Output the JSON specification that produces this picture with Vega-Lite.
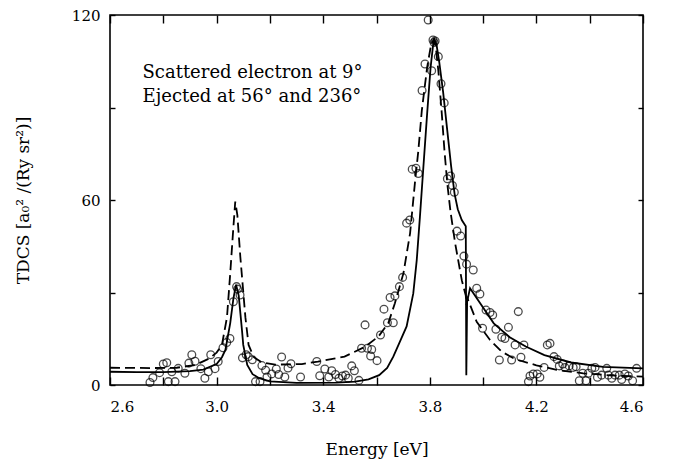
{
  "$schema": "https://vega.github.io/schema/vega-lite/v6.json",
  "width": 533,
  "height": 370,
  "autosize": "none",
  "padding": {"left": 110, "top": 15, "right": 30, "bottom": 81},
  "background": "white",
  "config": {
    "view": {"stroke": "black", "strokeWidth": 1.6},
    "font": "DejaVu Serif"
  },
  "datasets": {
    "obs": [
      {"E":2.750,"V":0.8},{"E":2.761,"V":2.4},{"E":2.786,"V":4.0},{"E":2.800,"V":6.8},{"E":2.813,"V":7.2},{"E":2.819,"V":1.1},{"E":2.844,"V":1.1},{"E":2.832,"V":4.3},{"E":2.856,"V":5.4},{"E":2.881,"V":3.8},{"E":2.896,"V":7.1},{"E":2.907,"V":9.8},{"E":2.919,"V":7.7},{"E":2.941,"V":5.3},{"E":2.956,"V":2.2},{"E":2.969,"V":4.3},{"E":2.978,"V":9.8},{"E":2.994,"V":5.3},{"E":3.006,"V":7.6},{"E":3.024,"V":12.1},{"E":3.038,"V":13.8},{"E":3.050,"V":15.1},{"E":3.063,"V":27.0},{"E":3.075,"V":31.9},{"E":3.079,"V":31.1},{"E":3.088,"V":29.2},
      {"E":3.097,"V":8.8},{"E":3.111,"V":9.8},{"E":3.119,"V":9.2},{"E":3.134,"V":8.2},{"E":3.146,"V":1.1},{"E":3.163,"V":1.1},{"E":3.170,"V":6.3},{"E":3.184,"V":4.8},{"E":3.189,"V":2.6},{"E":3.207,"V":3.6},{"E":3.224,"V":5.2},{"E":3.233,"V":3.4},{"E":3.244,"V":9.1},{"E":3.256,"V":2.6},{"E":3.268,"V":5.5},{"E":3.279,"V":6.9},{"E":3.315,"V":2.6},{"E":3.376,"V":7.6},{"E":3.387,"V":3.0},{"E":3.406,"V":5.2},{"E":3.421,"V":2.6},{"E":3.432,"V":4.6},{"E":3.446,"V":3.4},{"E":3.459,"V":2.2},{"E":3.472,"V":2.9},{"E":3.484,"V":3.2},{"E":3.494,"V":2.2},{"E":3.507,"V":6.2},{"E":3.517,"V":4.6},{"E":3.534,"V":1.5},{"E":3.544,"V":11.9},{"E":3.557,"V":19.5},{"E":3.566,"V":11.9},{"E":3.582,"V":11.5},{"E":3.578,"V":9.4},{"E":3.602,"V":7.9},{"E":3.615,"V":16.2},{"E":3.628,"V":24.6},{"E":3.641,"V":20.2},{"E":3.663,"V":20.2},{"E":3.651,"V":28.4},{"E":3.669,"V":28.9},{"E":3.686,"V":31.9},{"E":3.698,"V":34.9},
      {"E":3.713,"V":52.5},{"E":3.725,"V":53.5},{"E":3.734,"V":70.0},{"E":3.748,"V":70.3},{"E":3.757,"V":68.6},{"E":3.771,"V":95.5},{"E":3.782,"V":104.1},{"E":3.794,"V":118.4},{"E":3.807,"V":101.9},{"E":3.812,"V":111.9},{"E":3.820,"V":111.6},{"E":3.816,"V":111.1},{"E":3.832,"V":106.5},{"E":3.842,"V":97.7},{"E":3.854,"V":91.5},{"E":3.866,"V":66.9},{"E":3.878,"V":67.8},{"E":3.885,"V":64.7},{"E":3.892,"V":62.5},{"E":3.902,"V":49.9},{"E":3.916,"V":48.3},{"E":3.928,"V":41.8},{"E":3.938,"V":39.2},{"E":3.963,"V":37.3},{"E":3.976,"V":31.4},{"E":3.988,"V":29.5},{"E":4.011,"V":24.3},{"E":4.026,"V":23.5},{"E":4.036,"V":22.7},{"E":4.132,"V":23.8},{"E":3.998,"V":18.4},{"E":4.048,"V":18.1},{"E":4.095,"V":18.7},{"E":4.070,"V":15.5},{"E":4.082,"V":15.1},{"E":4.120,"V":13.0},{"E":4.153,"V":13.0},{"E":4.241,"V":13.0},{"E":4.251,"V":13.5},{"E":4.061,"V":8.1},{"E":4.107,"V":8.1},{"E":4.142,"V":9.0},{"E":4.229,"V":5.7},{"E":4.266,"V":9.2},{"E":4.278,"V":8.3},{"E":4.170,"V":1.1},{"E":4.176,"V":2.9},{"E":4.188,"V":3.6},{"E":4.203,"V":3.6},{"E":4.213,"V":2.5},{"E":4.286,"V":6.2},{"E":4.299,"V":6.8},{"E":4.307,"V":5.7},{"E":4.323,"V":6.2},{"E":4.338,"V":5.7},{"E":4.349,"V":5.9},{"E":4.361,"V":1.4},{"E":4.374,"V":3.8},{"E":4.386,"V":1.4},{"E":4.395,"V":3.8},{"E":4.408,"V":5.4},{"E":4.420,"V":5.7},{"E":4.429,"V":2.5},{"E":4.445,"V":3.2},{"E":4.464,"V":5.4},{"E":4.470,"V":3.2},{"E":4.483,"V":2.2},{"E":4.495,"V":3.2},{"E":4.511,"V":3.2},{"E":4.520,"V":1.8},{"E":4.532,"V":3.6},{"E":4.545,"V":2.9},{"E":4.561,"V":1.4},{"E":4.576,"V":5.4}
    ],
    "solid": [
      {"E":2.60,"V":4.3},{"E":2.70,"V":4.2},{"E":2.80,"V":4.2},{"E":2.90,"V":4.5},{"E":2.95,"V":5.0},{"E":3.00,"V":6.8},{"E":3.02,"V":9.0},{"E":3.033,"V":11.4},{"E":3.051,"V":20.0},{"E":3.063,"V":28.0},{"E":3.073,"V":32.5},{"E":3.083,"V":29.0},{"E":3.095,"V":18.0},{"E":3.10,"V":13.0},{"E":3.115,"V":6.5},{"E":3.135,"V":3.5},{"E":3.16,"V":2.2},{"E":3.20,"V":1.2},{"E":3.30,"V":0.7},{"E":3.45,"V":0.8},{"E":3.52,"V":1.1},{"E":3.57,"V":1.8},{"E":3.61,"V":3.2},{"E":3.64,"V":5.5},{"E":3.663,"V":9.2},{"E":3.685,"V":13.5},{"E":3.713,"V":19.0},{"E":3.738,"V":29.7},{"E":3.751,"V":40.5},{"E":3.763,"V":54.6},{"E":3.776,"V":70.8},{"E":3.79,"V":88.0},{"E":3.803,"V":103.0},{"E":3.812,"V":110.0},{"E":3.818,"V":112.0},{"E":3.825,"V":110.5},{"E":3.835,"V":105.0},{"E":3.85,"V":95.0},{"E":3.865,"V":83.0},{"E":3.88,"V":71.0},{"E":3.893,"V":62.0},{"E":3.905,"V":57.0},{"E":3.92,"V":53.5},{"E":3.935,"V":51.5},{"E":3.937,"V":3.2},{"E":3.940,"V":27.0},{"E":3.951,"V":31.4},{"E":3.989,"V":26.5},{"E":4.04,"V":20.0},{"E":4.10,"V":15.5},{"E":4.16,"V":12.5},{"E":4.23,"V":9.7},{"E":4.33,"V":7.3},{"E":4.45,"V":5.9},{"E":4.60,"V":5.4}
    ],
    "dashed": [
      {"E":2.60,"V":5.6},{"E":2.75,"V":5.5},{"E":2.85,"V":5.6},{"E":2.92,"V":6.5},{"E":2.97,"V":8.5},{"E":3.00,"V":10.5},{"E":3.02,"V":13.0},{"E":3.039,"V":22.0},{"E":3.051,"V":36.0},{"E":3.062,"V":50.0},{"E":3.070,"V":59.5},{"E":3.078,"V":55.0},{"E":3.089,"V":41.6},{"E":3.108,"V":22.0},{"E":3.12,"V":13.0},{"E":3.14,"V":9.0},{"E":3.17,"V":7.3},{"E":3.22,"V":6.6},{"E":3.32,"V":6.8},{"E":3.38,"V":7.6},{"E":3.48,"V":9.2},{"E":3.557,"V":12.4},{"E":3.607,"V":15.7},{"E":3.644,"V":20.0},{"E":3.669,"V":26.5},{"E":3.701,"V":36.2},{"E":3.726,"V":49.2},{"E":3.744,"V":65.4},{"E":3.757,"V":76.0},{"E":3.77,"V":89.0},{"E":3.79,"V":103.0},{"E":3.805,"V":110.5},{"E":3.814,"V":112.0},{"E":3.822,"V":110.0},{"E":3.832,"V":102.0},{"E":3.845,"V":88.0},{"E":3.855,"V":76.0},{"E":3.866,"V":65.0},{"E":3.878,"V":56.0},{"E":3.895,"V":46.0},{"E":3.92,"V":34.0},{"E":3.935,"V":29.0},{"E":3.938,"V":26.0},{"E":3.942,"V":28.0},{"E":3.976,"V":20.5},{"E":4.026,"V":14.6},{"E":4.07,"V":10.8},{"E":4.12,"V":8.4},{"E":4.20,"V":6.4},{"E":4.276,"V":4.9},{"E":4.376,"V":3.8},{"E":4.48,"V":3.1},{"E":4.60,"V":2.7}
    ]
  },
  "layer": [
    {
      "data": {"name": "dashed"},
      "mark": {"type": "line", "color": "black", "strokeWidth": 1.8, "strokeDash": [10, 5], "clip": true},
      "encoding": {
        "x": {"field": "E", "type": "quantitative", "scale": {"domain": [2.6, 4.6], "nice": false, "zero": false},
          "axis": {"orient": "bottom", "values": [2.6, 2.8, 3.0, 3.2, 3.4, 3.6, 3.8, 4.0, 4.2, 4.4, 4.6], "format": ".1f",
            "labelExpr": "round(datum.value*10) % 4 == 2 ? datum.label : ''",
            "tickSize": -8, "tickColor": "black", "tickWidth": 1.4, "domain": false, "grid": false,
            "labelFont": "DejaVu Serif", "labelFontSize": 15, "labelColor": "black", "labelPadding": 22,
            "title": "Energy [eV]", "titleFont": "DejaVu Serif", "titleFontSize": 17, "titleFontWeight": "normal", "titleColor": "black", "titlePadding": 27}},
        "y": {"field": "V", "type": "quantitative", "scale": {"domain": [0, 120], "nice": false},
          "axis": {"orient": "left", "values": [0, 30, 60, 90, 120],
            "labelExpr": "datum.value % 60 == 0 ? datum.label : ''",
            "tickSize": -5, "tickColor": "black", "tickWidth": 1.4, "domain": false, "grid": false,
            "labelFont": "DejaVu Serif", "labelFontSize": 15, "labelColor": "black", "labelPadding": 15,
            "title": "TDCS [a₀² /(Ry sr²)]", "titleFont": "DejaVu Serif", "titleFontSize": 17, "titleFontWeight": "normal", "titleColor": "black", "titlePadding": 39}}
      }
    },
    {
      "data": {"name": "solid"},
      "mark": {"type": "line", "color": "black", "strokeWidth": 1.8, "clip": true},
      "encoding": {
        "x": {"field": "E", "type": "quantitative", "axis": {"orient": "top", "values": [2.6, 2.8, 3.0, 3.2, 3.4, 3.6, 3.8, 4.0, 4.2, 4.4, 4.6], "labels": false, "tickSize": -8, "tickColor": "black", "tickWidth": 1.4, "domain": false, "grid": false, "title": null}},
        "y": {"field": "V", "type": "quantitative", "axis": {"orient": "right", "values": [0, 30, 60, 90, 120], "labels": false, "tickSize": -5, "tickColor": "black", "tickWidth": 1.4, "domain": false, "grid": false, "title": null}}
      }
    },
    {
      "data": {"name": "obs"},
      "mark": {"type": "point", "shape": "circle", "filled": false, "color": "black", "strokeWidth": 1.3, "size": 60},
      "encoding": {
        "x": {"field": "E", "type": "quantitative", "axis": null},
        "y": {"field": "V", "type": "quantitative", "axis": null}
      }
    },
    {
      "data": {"values": [{"label": "annotation"}]},
      "mark": {"type": "text", "align": "left", "baseline": "middle", "font": "DejaVu Serif", "fontSize": 18, "lineHeight": 24, "color": "black",
        "text": ["Scattered electron at 9°", "Ejected at 56° and 236°"]},
      "encoding": {
        "x": {"datum": 2.722, "type": "quantitative", "axis": null},
        "y": {"datum": 101.2, "type": "quantitative", "axis": null}
      }
    }
  ],
  "resolve": {"axis": {"x": "independent", "y": "independent"}}
}
